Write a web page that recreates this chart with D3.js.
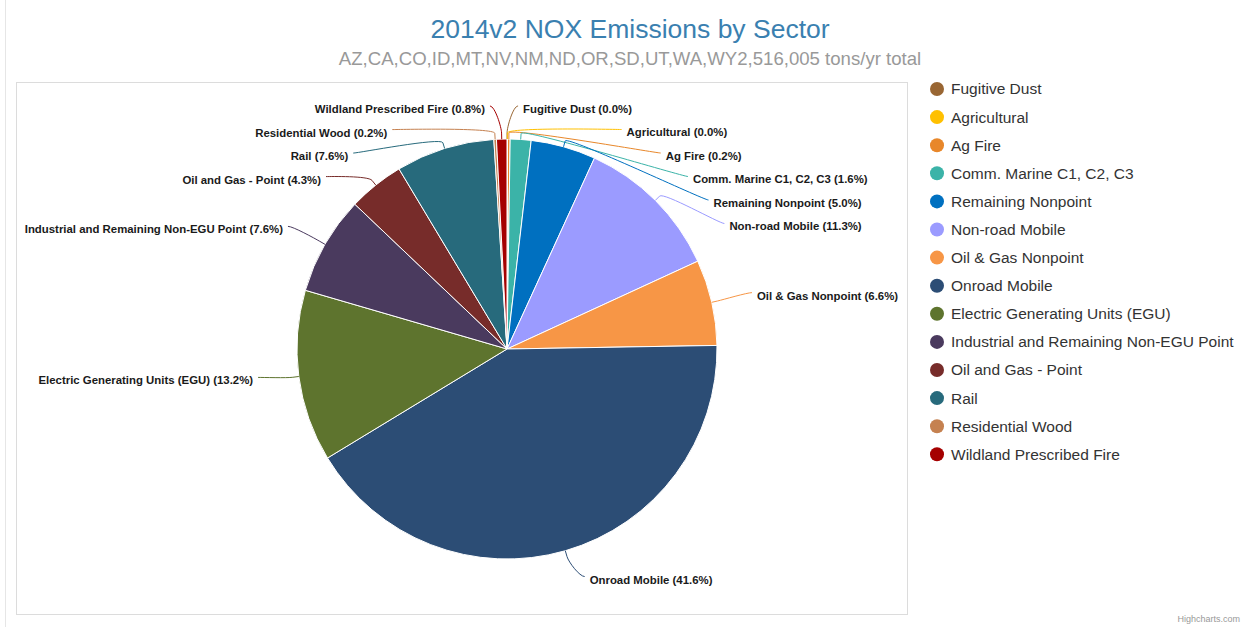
<!DOCTYPE html>
<html><head><meta charset="utf-8">
<script src="https://cdn.jsdelivr.net/npm/d3@7"></script>
<style>
html,body{margin:0;padding:0;background:#fff;}
svg{display:block;font-family:Arial,"Liberation Sans",Helvetica,sans-serif;}
</style></head>
<body>
<svg id="chart" width="1249" height="627"></svg>
<script>
const titleText = "2014v2 NOX Emissions by Sector";
const subtitleText = "AZ,CA,CO,ID,MT,NV,NM,ND,OR,SD,UT,WA,WY2,516,005 tons/yr total";
const categories = ["Fugitive Dust","Agricultural","Ag Fire","Comm. Marine C1, C2, C3","Remaining Nonpoint","Non-road Mobile","Oil & Gas Nonpoint","Onroad Mobile","Electric Generating Units (EGU)","Industrial and Remaining Non-EGU Point","Oil and Gas - Point","Rail","Residential Wood","Wildland Prescribed Fire"];
const percents = [0.01,0.03,0.2,1.6,5.0,11.3,6.6,41.6,13.2,7.6,4.3,7.6,0.2,0.8];
const colors = ["#996633","#FFC000","#E8872A","#3BB3A8","#0070C0","#9B9BFF","#F79646","#2C4D75","#5E742E","#4A3A5E","#772C2A","#276A7C","#C58150","#A50000"];

const svg = d3.select("#chart");
const W = 1249, H = 627;

svg.append("line").attr("x1",5.5).attr("x2",5.5).attr("y1",0).attr("y2",H).attr("stroke","#e6e6e6");
svg.append("rect").attr("x",16.5).attr("y",82.5).attr("width",891).attr("height",532)
  .attr("fill","none").attr("stroke","#dcdcdc").attr("stroke-width",1);

svg.append("text").attr("x",630).attr("y",38).attr("text-anchor","middle")
  .attr("font-size",26.5).attr("fill","#3a80b0").text(titleText);
svg.append("text").attr("x",630).attr("y",65).attr("text-anchor","middle")
  .attr("font-size",18.6).attr("fill","#999").text(subtitleText);

const cx = 507, cy = 349, r = 210, labelDist = 30, R = r + labelDist;
const data = categories.map((c,i)=>({name:c, value:percents[i], color:colors[i]}));
const total = d3.sum(percents);
const pie = d3.pie().value(d=>d.value).sort(null);
const arcs = pie(data);
const arc = d3.arc().innerRadius(0).outerRadius(r);
const g = svg.append("g").attr("transform",`translate(${cx},${cy})`);
g.selectAll("path.slice").data(arcs).enter().append("path").attr("class","slice")
  .attr("d",arc).attr("fill",d=>d.data.color).attr("stroke","#fff").attr("stroke-width",1).attr("stroke-linejoin","round");

const fmt = d3.format(".1f");
const labs = arcs.map(a=>{
  const m = (a.startAngle + a.endAngle)/2;
  return {a, m, right: m < Math.PI, y: cy - R*Math.cos(m), name:a.data.name, color:a.data.color,
    pct: fmt(a.data.value/total*100)};
});
const spacing = 23.5;
["right","left"].forEach(side=>{
  const list = labs.filter(l => side==="right" ? l.right : !l.right).sort((p,q)=>p.y-q.y);
  for (let i=1;i<list.length;i++) if (list[i].y < list[i-1].y + spacing) list[i].y = list[i-1].y + spacing;
});
const lg = svg.append("g");
labs.forEach(l=>{
  const dy = l.y - cy;
  const dx = Math.abs(dy) >= R ? 0 : Math.sqrt(R*R - dy*dy);
  const s = l.right ? 1 : -1;
  const xc = cx + s*dx;
  const sx = xc + s*11, tx = xc + s*16;
  const cyL = l.y - 3;
  const touch = [cx + r*Math.sin(l.m), cy - r*Math.cos(l.m)];
  const brk = [cx + (r+6)*Math.sin(l.m), cy - (r+6)*Math.cos(l.m)];
  const p = d3.path();
  p.moveTo(sx, cyL);
  p.bezierCurveTo(sx - s*5, cyL, 2*brk[0]-touch[0], 2*brk[1]-touch[1], brk[0], brk[1]);
  p.lineTo(touch[0], touch[1]);
  lg.append("path").attr("d",p.toString()).attr("fill","none").attr("stroke",l.color).attr("stroke-width",1);
  lg.append("text").attr("x",tx).attr("y",l.y).attr("dy","0.35em")
    .attr("text-anchor", l.right ? "start" : "end")
    .attr("font-size",11.4).attr("font-weight","bold").attr("fill","#1a1a1a")
    .attr("stroke","#fff").attr("stroke-width",2).attr("paint-order","stroke").attr("stroke-linejoin","round")
    .text(`${l.name} (${l.pct}%)`);
});

const leg = svg.append("g");
categories.forEach((c,i)=>{
  const y = 89 + i*28.1;
  leg.append("circle").attr("cx",937).attr("cy",y).attr("r",7).attr("fill",colors[i]);
  leg.append("text").attr("x",951).attr("y",y).attr("dy","0.35em").attr("font-size",15.5).attr("fill","#333").text(c);
});

svg.append("text").attr("x",1240).attr("y",622).attr("text-anchor","end").attr("font-size",9).attr("fill","#999").text("Highcharts.com");
</script>
</body></html>
